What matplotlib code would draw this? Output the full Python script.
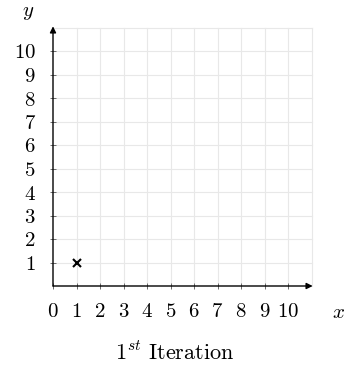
import matplotlib
matplotlib.use("Agg")
import matplotlib.pyplot as plt

plt.rcParams['mathtext.fontset'] = 'cm'
plt.rcParams['font.family'] = 'serif'
plt.rcParams['font.serif'] = ['DejaVu Serif']

ticks = list(range(0, 11))
x_tick_labels = [f'${t}$' for t in ticks]
y_ticks = list(range(1, 11))
y_tick_labels = [f'${t}$' for t in y_ticks]
points_x = [1]
points_y = [1]
title = r'$1^{st}$ $\mathrm{Iteration}$'

W, H = 351, 369
fig = plt.figure(figsize=(W / 100, H / 100), dpi=100)
left, right = 53, 311.5
top, bottom = 27.5, 286
ax = fig.add_axes([left / W, 1 - bottom / H, (right - left) / W, (bottom - top) / H])
ax.set_xlim(0, 11)
ax.set_ylim(0, 11)
for s in ax.spines.values():
    s.set_visible(False)

# grid
for v in range(1, 12):
    ax.plot([v, v], [0, 11], color='#e8e8e8', lw=0.8, zorder=1, clip_on=False)
    ax.plot([0, 11], [v, v], color='#e8e8e8', lw=0.8, zorder=1, clip_on=False)

ax.set_xticks(ticks)
ax.set_xticklabels(x_tick_labels, fontsize=15)
ax.set_yticks(y_ticks)
ax.set_yticklabels(y_tick_labels, fontsize=15)
ax.tick_params(axis='both', direction='inout', length=5, width=0.6, color='#555555')
ax.tick_params(axis='x', pad=9)
ax.tick_params(axis='y', pad=10)

# axes arrows
ax.annotate('', xy=(11.05, 0), xytext=(0, 0),
            arrowprops=dict(arrowstyle='-|>', color='black', lw=1.0, mutation_scale=9,
                            shrinkA=0, shrinkB=0), annotation_clip=False, zorder=5)
ax.annotate('', xy=(0, 11.05), xytext=(0, 0),
            arrowprops=dict(arrowstyle='-|>', color='black', lw=1.0, mutation_scale=9,
                            shrinkA=0, shrinkB=0), annotation_clip=False, zorder=5)

ax.plot(points_x, points_y, marker='x', linestyle='none', color='black',
        markersize=5.5, mew=1.5, zorder=6, clip_on=False)

fig.text(28 / W, 1 - 13 / H, r'$y$', fontsize=15, ha='center', va='center')
fig.text(338 / W, 1 - 312 / H, r'$x$', fontsize=15, ha='center', va='center')
fig.text(175 / W, 1 - 353 / H, title, fontsize=16, ha='center', va='center')

fig.savefig('out.png', dpi=100)
